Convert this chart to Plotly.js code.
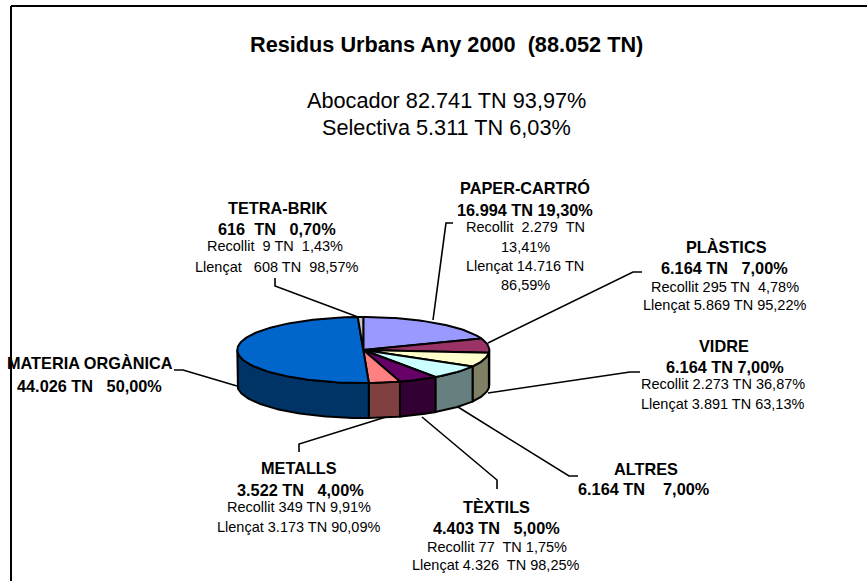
<!DOCTYPE html>
<html>
<head>
<meta charset="utf-8">
<script src="https://cdn.plot.ly/plotly-3.0.1.min.js"></script>
<style>html,body{margin:0;padding:0;background:#fff;}#chart{width:867px;height:581px;}</style>
</head>
<body>
<div id="chart"></div>
<script>
// ---- data ----
var categories = ["PAPER-CARTRÓ","PLÀSTICS","VIDRE","ALTRES","TÈXTILS","METALLS","MATERIA ORGÀNICA","TETRA-BRIK"];
var tonnes = [16994,6164,6164,6164,4403,3522,44026,616];
var topColors = ["#9999FF","#993366","#FFFFCC","#CCFFFF","#660066","#FF8080","#0066CC","#C8C8C8"];
var sideColors = ["#666699","#662244","#808066","#668080","#330033","#804040","#003366","#808080"];

var titleText = "Residus Urbans Any 2000\u00a0 (88.052 TN)";
var subtitleLines = ["Abocador 82.741 TN 93,97%","Selectiva 5.311 TN 6,03%"];

var labelPaper = [["PAPER-CARTRÓ",1],["16.994 TN 19,30%",1],["Recollit\u00a0 2.279\u00a0 TN",0],["13,41%",0],["Llençat 14.716 TN",0],["86,59%",0]];
var labelPlastics = [["PLÀSTICS",1],["6.164 TN\u00a0 \u00a07,00%",1],["Recollit 295 TN\u00a0 4,78%",0],["Llençat 5.869 TN 95,22%",0]];
var labelVidre = [["VIDRE",1],["6.164 TN 7,00%",1],["Recollit 2.273 TN 36,87%",0],["Llençat 3.891 TN 63,13%",0]];
var labelAltres = [["ALTRES",1],["6.164 TN\u00a0 \u00a0 7,00%",1]];
var labelTextils = [["TÈXTILS",1],["4.403 TN\u00a0 \u00a05,00%",1],["Recollit 77\u00a0 TN 1,75%",0],["Llençat 4.326\u00a0 TN 98,25%",0]];
var labelMetalls = [["METALLS",1],["3.522 TN\u00a0 \u00a04,00%",1],["Recollit 349 TN 9,91%",0],["Llençat 3.173 TN 90,09%",0]];
var labelOrganica = [["MATERIA ORGÀNICA",1],["44.026 TN\u00a0 \u00a050,00%",1]];
var labelTetra = [["TETRA-BRIK",1],["616\u00a0 TN\u00a0 \u00a00,70%",1],["Recollit\u00a0 9 TN\u00a0 1,43%",0],["Llençat\u00a0 \u00a0608 TN\u00a0 98,57%",0]];

// ---- layout constants (pixel-like axis space) ----
var W = 867, H = 581;
var cx = 363.3, cy = 350, rx = 126, ry = 33, depth = 35;
var FONT = '"Liberation Sans", Arial, sans-serif';
var BOLD = 16.3, REG = 14.5;

var total = tonnes.reduce(function(a,b){return a+b;},0);
function px(deg){ return cx + rx*Math.sin(deg*Math.PI/180); }
function py(deg){ return cy - ry*Math.cos(deg*Math.PI/180); }
function arc(a0,a1){ var n=Math.max(2,Math.ceil((a1-a0)/1.5)), r=[]; for(var i=0;i<=n;i++){ r.push(a0+(a1-a0)*i/n);} return r; }

var traces = [];
var start = 0, spans = [];
tonnes.forEach(function(v){ var s = v/total*360; spans.push([start,start+s]); start += s; });

// side walls (front half of the disc only)
spans.forEach(function(sp,i){
  var a0 = Math.max(sp[0],90), a1 = Math.min(sp[1],270);
  if(a1<=a0) return;
  var t = arc(a0,a1), xs=[], ys=[];
  t.forEach(function(d){ xs.push(px(d)); ys.push(py(d)); });
  t.slice().reverse().forEach(function(d){ xs.push(px(d)); ys.push(py(d)+depth); });
  xs.push(xs[0]); ys.push(ys[0]);
  traces.push({type:"scatter",mode:"lines",x:xs,y:ys,fill:"toself",fillcolor:sideColors[i],
    line:{color:"#000",width:2},hoverinfo:"skip",showlegend:false});
});
// top faces
spans.forEach(function(sp,i){
  var xs=[cx], ys=[cy];
  arc(sp[0],sp[1]).forEach(function(d){ xs.push(px(d)); ys.push(py(d)); });
  xs.push(cx); ys.push(cy);
  traces.push({type:"scatter",mode:"lines",x:xs,y:ys,fill:"toself",fillcolor:topColors[i],
    line:{color:"#000",width:2},name:categories[i],hoverinfo:"skip",showlegend:false});
});

// leader lines
var leaders = [
  [[453,223],[446,223],[433,320]],
  [[642,272],[633,272],[488,343]],
  [[640,372],[630,372],[488,393]],
  [[578,476],[569,476],[458,407]],
  [[497,489],[497,480],[422,417]],
  [[299,452],[299,444],[386,417]],
  [[174,370],[183,370],[237,386]],
  [[275,278],[275,286],[358,317]]
];
leaders.forEach(function(l){
  traces.push({type:"scatter",mode:"lines",x:l.map(function(p){return p[0];}),y:l.map(function(p){return p[1];}),
    line:{color:"#000",width:1.6},hoverinfo:"skip",showlegend:false});
});

// text
var annotations = [];
function addText(text,x,y,size,bold){
  annotations.push({x:x,y:y,xref:"x",yref:"y",xanchor:"center",yanchor:"middle",showarrow:false,
    text:bold?"<b>"+text+"</b>":text,font:{family:FONT,size:size,color:"#000"},borderpad:0});
}
function addLabel(lines,pos){
  lines.forEach(function(l,i){ addText(l[0],pos[i][0],pos[i][1],l[1]?BOLD:REG,!!l[1]); });
}
addText(titleText,446,44,21.7,true);
addText(subtitleLines[0],446,100,21.7,false);
addText(subtitleLines[1],446,127,21.7,false);
addLabel(labelPaper,[[525,188],[525,210],[525,227],[525,247],[525,266],[525,285]]);
addLabel(labelPlastics,[[726,247],[724,268],[725,287],[724,305]]);
addLabel(labelVidre,[[724,346],[725,367],[723,384],[722,404]]);
addLabel(labelAltres,[[646,469],[644,489]]);
addLabel(labelTextils,[[496,507],[496,528],[497,547],[496,565]]);
addLabel(labelMetalls,[[299,468],[300,490],[299,507],[298,527]]);
addLabel(labelOrganica,[[90,363],[89,386]]);
addLabel(labelTetra,[[278,208],[277,229],[275,246],[276,267]]);

var layout = {
  width:W,height:H,margin:{l:0,r:0,t:0,b:0,pad:0},paper_bgcolor:"#fff",plot_bgcolor:"#fff",
  showlegend:false,hovermode:false,
  xaxis:{range:[0,W],visible:false,fixedrange:true},
  yaxis:{range:[H,0],visible:false,fixedrange:true},
  annotations:annotations,
  shapes:[
    {type:"line",xref:"paper",yref:"paper",x0:11/W,x1:1,y0:1-6/H,y1:1-6/H,line:{color:"#000",width:2}},
    {type:"line",xref:"paper",yref:"paper",x0:11/W,x1:11/W,y0:1-6/H,y1:0,line:{color:"#000",width:2}}
  ]
};
Plotly.newPlot("chart",traces,layout,{displayModeBar:false,staticPlot:true});
</script>
</body>
</html>
